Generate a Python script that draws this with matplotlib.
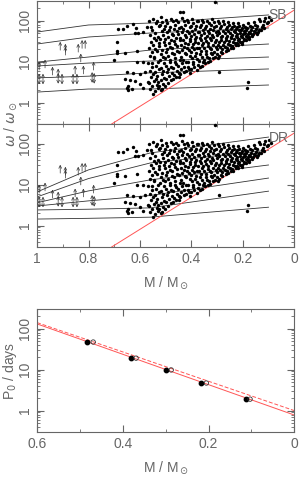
import numpy as np
import matplotlib.pyplot as plt
from matplotlib.ticker import FixedLocator

# ---- data ----
# model curves (SB = solid body, DR = differential rotation), omega vs mass
curve_M = [1.0, 0.8, 0.56, 0.1]
sb_curves = [
    [52.6, 78, 87, 137],
    [26.8, 39.7, 49.7, 66],
    [9.7, 12.9, 19.1, 26.8],
    [7.8, 9.2, 10.3, 12.9],
    [4.0, 4.4, 5.3, 6.6],
    [1.8, 2.14, 2.14, 2.68],
]
dr_curves = [
    [6.6, 22.8, 59, 144],
    [5.0, 14.0, 33.6, 69],
    [3.6, 7.0, 13, 30],
    [3.0, 4.0, 5.4, 14.4],
    [2.4, 2.5, 2.7, 6.9],
    [1.44, 1.5, 1.6, 2.8],
]

# limit line
limit_M = [0.71, 0.0]
limit_w = [0.3, 180]

# observed stars
star_M = [
    0.685, 0.665, 0.65, 0.626, 0.615, 0.62, 0.607, 0.588, 0.572, 0.69,
    0.69, 0.69, 0.658, 0.61, 0.70, 0.61, 0.588, 0.57, 0.65, 0.626,
    0.60, 0.58, 0.658, 0.64, 0.62, 0.646, 0.63, 0.65, 0.60, 0.588,
    0.57, 0.645,
    0.563, 0.558, 0.561, 0.556, 0.564, 0.559, 0.555, 0.562, 0.557, 0.565, 0.560,
    0.548, 0.553, 0.546, 0.551, 0.554, 0.547, 0.552, 0.549, 0.545, 0.553, 0.550,
    0.538, 0.543, 0.536, 0.541, 0.544, 0.537, 0.542, 0.539, 0.535, 0.540,
    0.533, 0.527, 0.531, 0.526, 0.534, 0.529, 0.525, 0.532, 0.528, 0.530,
    0.518, 0.523, 0.516, 0.521, 0.524, 0.517, 0.522, 0.519, 0.515, 0.520, 0.524, 0.517,
    0.513, 0.507, 0.511, 0.506, 0.514, 0.509, 0.505, 0.512, 0.508, 0.510, 0.514,
    0.498, 0.503, 0.496, 0.501, 0.504, 0.497, 0.502, 0.499, 0.495, 0.500, 0.503,
    0.493, 0.487, 0.491, 0.486, 0.494, 0.489, 0.485, 0.492, 0.488, 0.490,
    0.478, 0.483, 0.476, 0.481, 0.484, 0.477, 0.482, 0.479, 0.475, 0.480,
    0.473, 0.467, 0.471, 0.466, 0.474, 0.469, 0.465, 0.472, 0.468, 0.470,
    0.458, 0.463, 0.456, 0.461, 0.464, 0.457, 0.462, 0.459, 0.455, 0.460,
    0.453, 0.447, 0.451, 0.446, 0.454, 0.449, 0.445, 0.452, 0.448, 0.450,
    0.443, 0.438, 0.441, 0.436, 0.444, 0.439, 0.435, 0.442, 0.437, 0.440, 0.444,
    0.431, 0.427, 0.433, 0.426, 0.434, 0.429, 0.425, 0.432, 0.428, 0.430,
    0.418, 0.423, 0.416, 0.421, 0.424, 0.417, 0.422, 0.419, 0.415, 0.420,
    0.413, 0.407, 0.411, 0.406, 0.414, 0.409, 0.405, 0.412, 0.408,
    0.398, 0.403, 0.396, 0.401, 0.404, 0.397, 0.402, 0.399, 0.395, 0.400, 0.404,
    0.393, 0.387, 0.391, 0.386, 0.394, 0.389, 0.385, 0.392, 0.388,
    0.378, 0.383, 0.376, 0.381, 0.384, 0.377, 0.382, 0.379, 0.375, 0.380,
    0.373, 0.367, 0.371, 0.366, 0.374, 0.369, 0.365, 0.372, 0.368,
    0.358, 0.363, 0.356, 0.361, 0.364, 0.357, 0.362, 0.359, 0.355, 0.360,
    0.353, 0.347, 0.351, 0.346, 0.354, 0.349, 0.345, 0.352, 0.348,
    0.338, 0.343, 0.336, 0.341, 0.344, 0.337, 0.342, 0.339, 0.335,
    0.333, 0.327, 0.331, 0.326, 0.334, 0.329, 0.325, 0.332, 0.328,
    0.318, 0.323, 0.316, 0.321, 0.324, 0.317, 0.322, 0.319, 0.315,
    0.307, 0.313, 0.311, 0.306, 0.314, 0.309, 0.305, 0.312, 0.308,
    0.298, 0.303, 0.296, 0.301, 0.304, 0.297, 0.302, 0.299, 0.295,
    0.293, 0.287, 0.291, 0.286, 0.294, 0.289, 0.285, 0.292, 0.294,
    0.278, 0.283, 0.276, 0.281, 0.284, 0.277, 0.282, 0.279,
    0.273, 0.267, 0.271, 0.266, 0.274, 0.269, 0.265,
    0.258, 0.263, 0.256, 0.261, 0.264, 0.257, 0.262, 0.259,
    0.253, 0.247, 0.251, 0.246, 0.254, 0.249, 0.245,
    0.238, 0.243, 0.236, 0.241, 0.244, 0.237, 0.242, 0.239,
    0.233, 0.227, 0.231, 0.226, 0.234, 0.229, 0.225,
    0.218, 0.223, 0.216, 0.221, 0.224, 0.217, 0.222, 0.219,
    0.213, 0.207, 0.211, 0.206, 0.214, 0.209, 0.205,
    0.198, 0.203, 0.196, 0.201, 0.204, 0.197, 0.202,
    0.193, 0.187, 0.191, 0.186, 0.194, 0.189,
    0.178, 0.183, 0.176, 0.181, 0.184, 0.177, 0.178, 0.184,
    0.173, 0.167, 0.171, 0.166, 0.174,
    0.158, 0.163, 0.156, 0.161, 0.164,
    0.153, 0.147, 0.151, 0.146,
    0.138, 0.143, 0.136, 0.141,
    0.133, 0.127, 0.131,
    0.118, 0.123, 0.116,
    0.113, 0.107,
    0.098, 0.103,
    0.092,
]
star_w = [
    62, 62, 73, 82, 66, 50, 50, 53, 70, 30,
    18, 16, 16, 18, 10.7, 9.7, 10, 9, 5.5, 5.3,
    4.9, 5.5, 3.8, 3.5, 3.3, 2.6, 2.2, 2.3, 2.8, 2.3,
    3.2, 2.0,
    95, 70, 45, 30, 22, 14, 9, 6, 4.2, 3.0, 2.2,
    110, 60, 38, 25, 17, 12, 7.5, 5, 3.4, 2.5, 1.6,
    85, 50, 33, 20, 13, 8, 5.5, 3.8, 2.7, 1.9,
    100, 72, 40, 28, 18, 10, 6.5, 4.5, 3.2, 2.3,
    120, 80, 55, 35, 24, 15, 11, 7, 5, 3.5, 2.6, 2.0,
    90, 62, 44, 30, 19, 13, 9, 6, 4, 2.8, 2.2,
    105, 75, 52, 36, 26, 17, 12, 8, 5.5, 3.8, 2.5,
    88, 58, 40, 29, 20, 14, 9.5, 6.5, 4.4, 3.0,
    110, 68, 47, 33, 23, 16, 11, 7.5, 5.2, 3.6,
    95, 64, 45, 31, 22, 15, 10, 7, 4.8, 3.8,
    102, 78, 56, 38, 27, 18, 12.5, 8.5, 6, 4.2,
    92, 66, 48, 34, 24, 17, 11, 7.8, 5.4, 4.3,
    165, 115, 70, 52, 37, 26, 19, 13, 9, 6.5, 5.0,
    165, 95, 62, 45, 33, 23, 16, 11, 7.5, 5.6,
    105, 80, 57, 40, 29, 21, 15, 10, 7.2, 6.0,
    90, 68, 50, 36, 27, 19, 13.5, 9.5, 6.6,
    110, 75, 55, 42, 31, 23, 17, 12, 8.5, 6.5, 5.2,
    85, 64, 48, 36, 27, 20, 14, 10, 7.5,
    100, 72, 53, 40, 30, 22, 16, 11.5, 8.2, 6.2,
    95, 70, 52, 38, 29, 21, 15, 10.5, 7.4,
    105, 78, 58, 44, 33, 25, 18, 13, 9.5, 8,
    90, 66, 50, 38, 28, 21, 15, 11, 9,
    98, 74, 56, 42, 32, 24, 18, 13, 10,
    85, 64, 49, 37, 28, 21, 16, 12.5, 10.5,
    110, 78, 60, 45, 34, 26, 20, 15, 12,
    290, 92, 68, 52, 40, 30, 23, 17, 13,
    100, 75, 57, 44, 34, 26, 20, 15, 12.5,
    88, 66, 50, 39, 30, 23, 17.5, 14, 5.7,
    95, 72, 56, 43, 33, 26, 20, 16,
    82, 63, 49, 38, 30, 23, 18,
    90, 70, 55, 43, 34, 27, 21, 19,
    78, 62, 50, 40, 32, 26, 21,
    85, 68, 55, 45, 37, 30, 24, 22,
    75, 62, 52, 43, 35, 29, 25,
    88, 70, 58, 48, 40, 33, 28, 25,
    72, 60, 50, 42, 36, 30, 27,
    80, 66, 55, 46, 39, 33, 30,
    70, 58, 49, 42, 36, 33,
    85, 65, 54, 46, 40, 36, 3.2, 2.3,
    75, 60, 50, 44, 40,
    90, 68, 56, 48, 43,
    80, 62, 52, 47,
    110, 72, 58, 52,
    95, 70, 60,
    100, 78, 66,
    115, 85,
    120, 90,
    105,
]

# lower limits (up arrows) and uncertain values (double arrows)
up_M = [0.992, 0.969, 0.94, 0.918, 0.91, 0.89, 0.89, 0.84, 0.825, 0.813,
        0.83, 0.78, 0.852, 0.82]
up_w = [6.2, 7.0, 4.7, 4.2, 19, 17, 14.4, 17, 21, 21,
        9.8, 6.2, 5.0, 5.0]
ud_M = [0.992, 0.977, 0.918, 0.903, 0.86, 0.845, 0.786, 0.778]
ud_w = [3.75, 3.75, 3.9, 3.75, 3.75, 3.75, 4.1, 3.9]

# bottom panel: initial period vs mass
p_fit_M = [0.6, 0.0]
p_fit = [130, 0.78]
p_fit2 = [140, 1.0]
pfill_M = [0.483, 0.38, 0.299, 0.217, 0.112]
pfill = [47, 19, 9.8, 4.7, 1.9]
popen_M = [0.469, 0.369, 0.287, 0.205, 0.103]
popen = [47, 19, 9.8, 4.7, 1.9]

grey = '#666666'
plt.rcParams['font.family'] = ['Liberation Sans', 'DejaVu Sans']
plt.rcParams['mathtext.fontset'] = 'dejavusans'

fig = plt.figure(figsize=(2.99, 4.78), dpi=100)
ax1 = fig.add_axes([0.124, 0.7406, 0.86, 0.2573])
ax2 = fig.add_axes([0.124, 0.4833, 0.86, 0.2573])
ax3 = fig.add_axes([0.124, 0.0962, 0.86, 0.2573])


def style(ax, xmin, xmax, ymin, ymax):
    ax.set_yscale('log')
    ax.set_xlim(xmin, xmax)
    ax.set_ylim(ymin, ymax)
    for s in ax.spines.values():
        s.set_color(grey)
        s.set_linewidth(0.8)
    ax.tick_params(which='both', direction='in', top=True, right=True,
                   colors=grey, labelsize=10)
    ax.tick_params(which='major', length=5)
    ax.tick_params(which='minor', length=2.5)
    ax.yaxis.set_major_locator(FixedLocator([1, 10, 100]))
    ax.set_yticklabels(['1', '10', '100'], rotation=90, va='center')


for ax, curves, tag in [(ax1, sb_curves, 'SB'), (ax2, dr_curves, 'DR')]:
    style(ax, 1.0, 0.0, 0.3, 300)
    for c in curves:
        ax.plot(curve_M, c, color='#333333', lw=0.6)
    ax.plot(limit_M, limit_w, color='#ff5555', lw=0.7)
    ax.scatter(star_M, star_w, s=6, color='black', lw=0, zorder=3,
               clip_on=False)
    for m, w in zip(up_M, up_w):
        ax.annotate('', xy=(m, w * 1.6), xytext=(m, w),
                    arrowprops=dict(arrowstyle='->', color='#333333', lw=0.5,
                                    shrinkA=0, shrinkB=0, mutation_scale=5))
    for m, w in zip(ud_M, ud_w):
        ax.annotate('', xy=(m, w * 1.35), xytext=(m, w / 1.35),
                    arrowprops=dict(arrowstyle='<->', color='#333333', lw=0.5,
                                    shrinkA=0, shrinkB=0, mutation_scale=5))
    ax.text(0.1, 140, tag, color=grey, fontsize=10, ha='left', va='center')
    ax.xaxis.set_major_locator(FixedLocator([1, 0.8, 0.6, 0.4, 0.2, 0]))
    ax.xaxis.set_minor_locator(FixedLocator([0.9, 0.7, 0.5, 0.3, 0.1]))

ax1.set_xticklabels([])
ax2.set_xticklabels(['1', '0.8', '0.6', '0.4', '0.2', '0'])
ax2.set_xlabel(r'M / M$_\odot$', color=grey, fontsize=10, labelpad=6)
fig.text(0.035, 0.7406, r'$\omega$ / $\omega_\odot$', color=grey, fontsize=10,
         rotation=90, ha='center', va='center')

style(ax3, 0.6, 0.0, 0.3, 300)
ax3.xaxis.set_major_locator(FixedLocator([0.6, 0.4, 0.2, 0]))
ax3.xaxis.set_minor_locator(FixedLocator([0.5, 0.3, 0.1]))
ax3.set_xticklabels(['0.6', '0.4', '0.2', '0'])
ax3.plot(p_fit_M, p_fit, color='#ff5555', lw=0.7)
ax3.plot(p_fit_M, p_fit2, color='#ff5555', lw=0.7, ls=(0, (4, 2)))
ax3.scatter(pfill_M, pfill, s=10, color='black', zorder=3)
ax3.scatter(popen_M, popen, s=10, facecolor='none', edgecolor='#333333',
            lw=0.6, zorder=3)
ax3.set_xlabel(r'M / M$_\odot$', color=grey, fontsize=10, labelpad=6)
fig.text(0.035, 0.0962 + 0.1287, r'P$_0$ / days', color=grey, fontsize=10,
         rotation=90, ha='center', va='center')

fig.savefig('out.png', dpi=100)
